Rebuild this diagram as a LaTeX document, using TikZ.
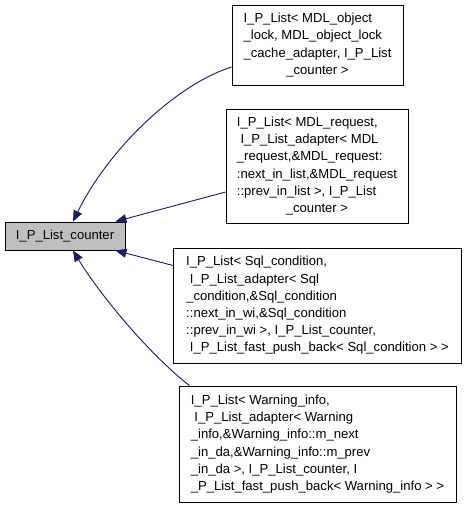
\documentclass[tikz,border=0pt]{standalone}
\usepackage{fontspec}
\setmainfont{Liberation Sans}
\usetikzlibrary{arrows.meta}
\definecolor{edgeblue}{HTML}{191970}
\definecolor{nodegray}{HTML}{BFBFBF}
\newcommand{\lastc}[1]{\multicolumn{1}{@{}c@{}}{#1}}
\begin{document}
\begin{tikzpicture}[x=1pt,y=-1pt,
  box/.style={draw=black,line width=0.9pt,fill=white,inner sep=0pt,
    font=\fontsize{13.1}{17.2}\selectfont},
  edge/.style={draw=edgeblue,line width=0.9pt,
    -{Triangle[length=11pt,width=9pt]}}]
\useasboundingbox (0,0) rectangle (467,507);
\node[box,fill=nodegray,minimum width=120pt,minimum height=28pt] (c) at (65,236)
  {I\_P\_List\_counter};
\node[box,minimum width=171pt,minimum height=80pt] (b1) at (317.5,45)
  {\begin{tabular}{@{}l@{}}I\_P\_List< MDL\_object\\
   \_lock, MDL\_object\_lock\\
   \_cache\_adapter, I\_P\_List\\
   \lastc{\_counter >}\end{tabular}};
\node[box,minimum width=182pt,minimum height=114pt] (b2) at (317,166)
  {\begin{tabular}{@{}l@{}}I\_P\_List< MDL\_request,\\
   \ I\_P\_List\_adapter< MDL\\
   \_request,\&MDL\_request:\\
   :next\_in\_list,\&MDL\_request\\
   ::prev\_in\_list >, I\_P\_List\\
   \lastc{\_counter >}\end{tabular}};
\node[box,minimum width=288pt,minimum height=115pt] (b3) at (317.5,305.5)
  {\begin{tabular}{@{}l@{}}I\_P\_List< Sql\_condition,\\
   \ I\_P\_List\_adapter< Sql\\
   \_condition,\&Sql\_condition\\
   ::next\_in\_wi,\&Sql\_condition\\
   ::prev\_in\_wi >, I\_P\_List\_counter,\\
   \lastc{\ I\_P\_List\_fast\_push\_back< Sql\_condition > >}\end{tabular}};
\node[box,minimum width=277pt,minimum height=116pt] (b4) at (317.5,444)
  {\begin{tabular}{@{}l@{}}I\_P\_List< Warning\_info,\\
   \ I\_P\_List\_adapter< Warning\\
   \_info,\&Warning\_info::m\_next\\
   \_in\_da,\&Warning\_info::m\_prev\\
   \_in\_da >, I\_P\_List\_counter, I\\
   \lastc{\_P\_List\_fast\_push\_back< Warning\_info > >}\end{tabular}};
\draw[edge] ([yshift=-22pt]b1.west) .. controls (175,85) and (108,150) .. ([xshift=8pt]c.north);
\draw[edge] ([yshift=-26pt]b2.west) -- ([xshift=-10pt]c.north east);
\draw[edge] ([yshift=40pt]b3.west) -- ([xshift=-10pt]c.south east);
\draw[edge] ([xshift=-128pt]b4.north) .. controls (150,355) and (100,295) .. ([xshift=8pt]c.south);
\end{tikzpicture}
\end{document}
